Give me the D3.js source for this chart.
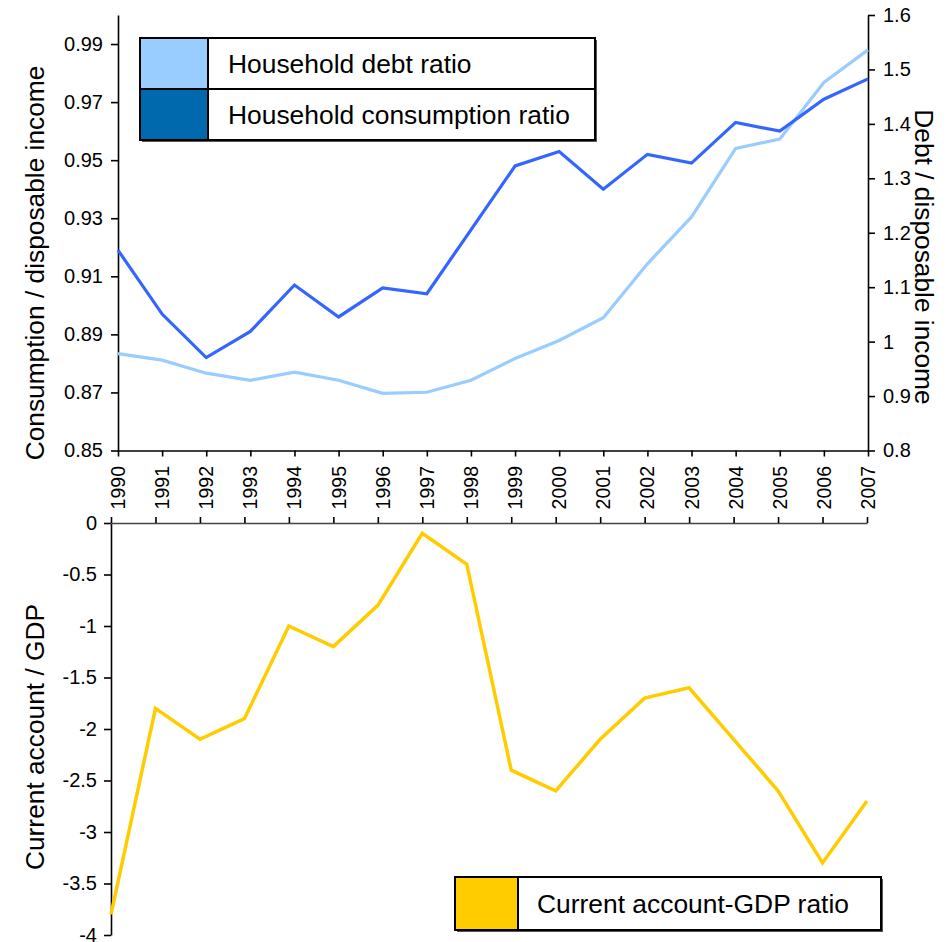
<!DOCTYPE html>
<html>
<head>
<meta charset="utf-8">
<script src="https://cdn.jsdelivr.net/npm/d3@7"></script>
<style>
  html, body { margin: 0; padding: 0; background: #fff; }
  svg { display: block; font-family: "Liberation Sans", Arial, sans-serif; }
</style>
</head>
<body>
<svg id="chart" width="947" height="942"></svg>
<script>
// Years on the shared horizontal axis
const years = [1990, 1991, 1992, 1993, 1994, 1995, 1996, 1997, 1998, 1999,
               2000, 2001, 2002, 2003, 2004, 2005, 2006, 2007];

// Household consumption / disposable income (left axis, upper panel)
const consumptionRatio = [0.919, 0.897, 0.882, 0.891, 0.907, 0.896, 0.906, 0.904, 0.926,
                          0.948, 0.953, 0.940, 0.952, 0.949, 0.963, 0.960, 0.971, 0.978];

// Household debt / disposable income (right axis, upper panel)
const debtRatio = [0.978, 0.966, 0.942, 0.929, 0.944, 0.929, 0.905, 0.907, 0.929,
                   0.969, 1.002, 1.044, 1.143, 1.229, 1.355, 1.372, 1.476, 1.536];

// Current account / GDP, percent (lower panel)
const currentAccount = [-3.8, -1.8, -2.1, -1.9, -1.0, -1.2, -0.8, -0.1, -0.4,
                        -2.4, -2.6, -2.1, -1.7, -1.6, -2.1, -2.6, -3.3, -2.7];

// Tick values
const consumptionTicks = [0.85, 0.87, 0.89, 0.91, 0.93, 0.95, 0.97, 0.99];
const debtTicks = [0.8, 0.9, 1.0, 1.1, 1.2, 1.3, 1.4, 1.5, 1.6];
const caTicks = [0, -0.5, -1, -1.5, -2, -2.5, -3, -3.5, -4];

// Legend entries
const upperLegend = [
  { label: "Household debt ratio", color: "#99ccff" },
  { label: "Household consumption ratio", color: "#0068ad" }
];
const lowerLegend = [
  { label: "Current account-GDP ratio", color: "#ffcc00" }
];

const svg = d3.select("#chart");
const tickFont = 20;
const titleFont = 26.3;

// ---------- Upper panel ----------
const xTop = d3.scaleLinear().domain([1990, 2007]).range([118, 868]);
const yLeft = d3.scaleLinear().domain([0.85, 1.0]).range([450.5, 15]);
const yRight = d3.scaleLinear().domain([0.8, 1.6]).range([450.5, 15]);

const axLeft = svg.append("g").attr("transform", `translate(${xTop.range()[0]},0)`)
  .call(d3.axisLeft(yLeft).tickValues(consumptionTicks).tickSize(7).tickSizeOuter(0)
        .tickFormat(d3.format(".2f")));

const axRight = svg.append("g").attr("transform", `translate(${xTop.range()[1]},0)`)
  .call(d3.axisRight(yRight).tickValues(debtTicks).tickSize(7).tickSizeOuter(0)
        .tickFormat(v => String(+v.toFixed(1))));

const axBottomTop = svg.append("g").attr("transform", `translate(0,${yLeft.range()[0]})`)
  .call(d3.axisBottom(xTop).tickValues(years).tickSize(6).tickSizeOuter(0).tickFormat(""));

// rotated year labels
svg.append("g").selectAll("text").data(years).join("text")
  .attr("transform", d => `translate(${xTop(d)},466) rotate(-90)`)
  .attr("text-anchor", "end")
  .attr("dominant-baseline", "central")
  .attr("font-size", 19.5)
  .attr("fill", "#000")
  .text(d => d);

// lines
const lineDebt = d3.line().x((d, i) => xTop(years[i])).y(d => yRight(d));
const lineCons = d3.line().x((d, i) => xTop(years[i])).y(d => yLeft(d));

svg.append("path").datum(debtRatio)
  .attr("d", lineDebt).attr("fill", "none")
  .attr("stroke", "#99ccff").attr("stroke-width", 3.2).attr("stroke-linejoin", "miter");
svg.append("path").datum(consumptionRatio)
  .attr("d", lineCons).attr("fill", "none")
  .attr("stroke", "#3366ff").attr("stroke-width", 3.2).attr("stroke-linejoin", "miter");

// ---------- Lower panel ----------
const xBot = d3.scaleLinear().domain([1990, 2007]).range([111, 867]);
const yCA = d3.scaleLinear().domain([-4, 0]).range([935, 523]);

const axCA = svg.append("g").attr("transform", `translate(${xBot.range()[0]},0)`)
  .call(d3.axisLeft(yCA).tickValues(caTicks).tickSize(7).tickSizeOuter(0)
        .tickFormat(v => String(v)));

const axBotX = svg.append("g").attr("transform", `translate(0,${yCA(0)})`)
  .call(d3.axisTop(xBot).tickValues(years).tickSize(6).tickSizeOuter(0).tickFormat(""));

const lineCA = d3.line().x((d, i) => xBot(years[i])).y(d => yCA(d));
svg.append("path").datum(currentAccount)
  .attr("d", lineCA).attr("fill", "none")
  .attr("stroke", "#ffcc00").attr("stroke-width", 3.5).attr("stroke-linejoin", "miter");

// axis styling
[axLeft, axRight, axBottomTop, axCA, axBotX].forEach(g => {
  g.selectAll(".domain").attr("stroke", "#000").attr("stroke-width", 1.6);
  g.selectAll(".tick line").attr("stroke", "#000").attr("stroke-width", 1.6);
  g.selectAll(".tick text").attr("font-size", tickFont).attr("fill", "#000")
    .attr("font-family", "Liberation Sans, Arial, sans-serif");
});
axLeft.selectAll(".tick text").attr("x", -15);
axRight.selectAll(".tick text").attr("x", 15);
axCA.selectAll(".tick text").attr("x", -14).attr("dy", "0.3em");
axBotX.selectAll(".domain").attr("stroke", "#444");

// ---------- Axis titles ----------
svg.append("text")
  .attr("transform", "translate(35,263) rotate(-90)")
  .attr("text-anchor", "middle").attr("dominant-baseline", "central")
  .attr("font-size", titleFont).text("Consumption / disposable income");

svg.append("text")
  .attr("transform", "translate(924,257) rotate(90)")
  .attr("text-anchor", "middle").attr("dominant-baseline", "central")
  .attr("font-size", titleFont).text("Debt / disposable income");

svg.append("text")
  .attr("transform", "translate(35,737) rotate(-90)")
  .attr("text-anchor", "middle").attr("dominant-baseline", "central")
  .attr("font-size", titleFont).text("Current account / GDP");

// ---------- Legends ----------
function drawLegend(entries, x, y, w, rowH, swatchW, textGap) {
  const g = svg.append("g").attr("transform", `translate(${x},${y})`);
  const h = rowH * entries.length;
  // drop shadow
  g.append("rect").attr("x", 2).attr("y", 2).attr("width", w).attr("height", h)
    .attr("fill", "#555");
  g.append("rect").attr("width", w).attr("height", h)
    .attr("fill", "#fff").attr("stroke", "#000").attr("stroke-width", 2);
  entries.forEach((e, i) => {
    g.append("rect").attr("x", 0).attr("y", i * rowH).attr("width", swatchW).attr("height", rowH)
      .attr("fill", e.color).attr("stroke", "#000").attr("stroke-width", 2);
    if (i > 0) {
      g.append("line").attr("x1", 0).attr("x2", w).attr("y1", i * rowH).attr("y2", i * rowH)
        .attr("stroke", "#000").attr("stroke-width", 2);
    }
    g.append("text")
      .attr("x", swatchW + textGap).attr("y", i * rowH + rowH / 2)
      .attr("dominant-baseline", "central")
      .attr("font-size", 26.4).attr("fill", "#000")
      .text(e.label);
  });
}

drawLegend(upperLegend, 140, 38, 455, 51, 68, 20);
drawLegend(lowerLegend, 455, 877, 426, 53, 63, 19);
</script>
</body>
</html>
